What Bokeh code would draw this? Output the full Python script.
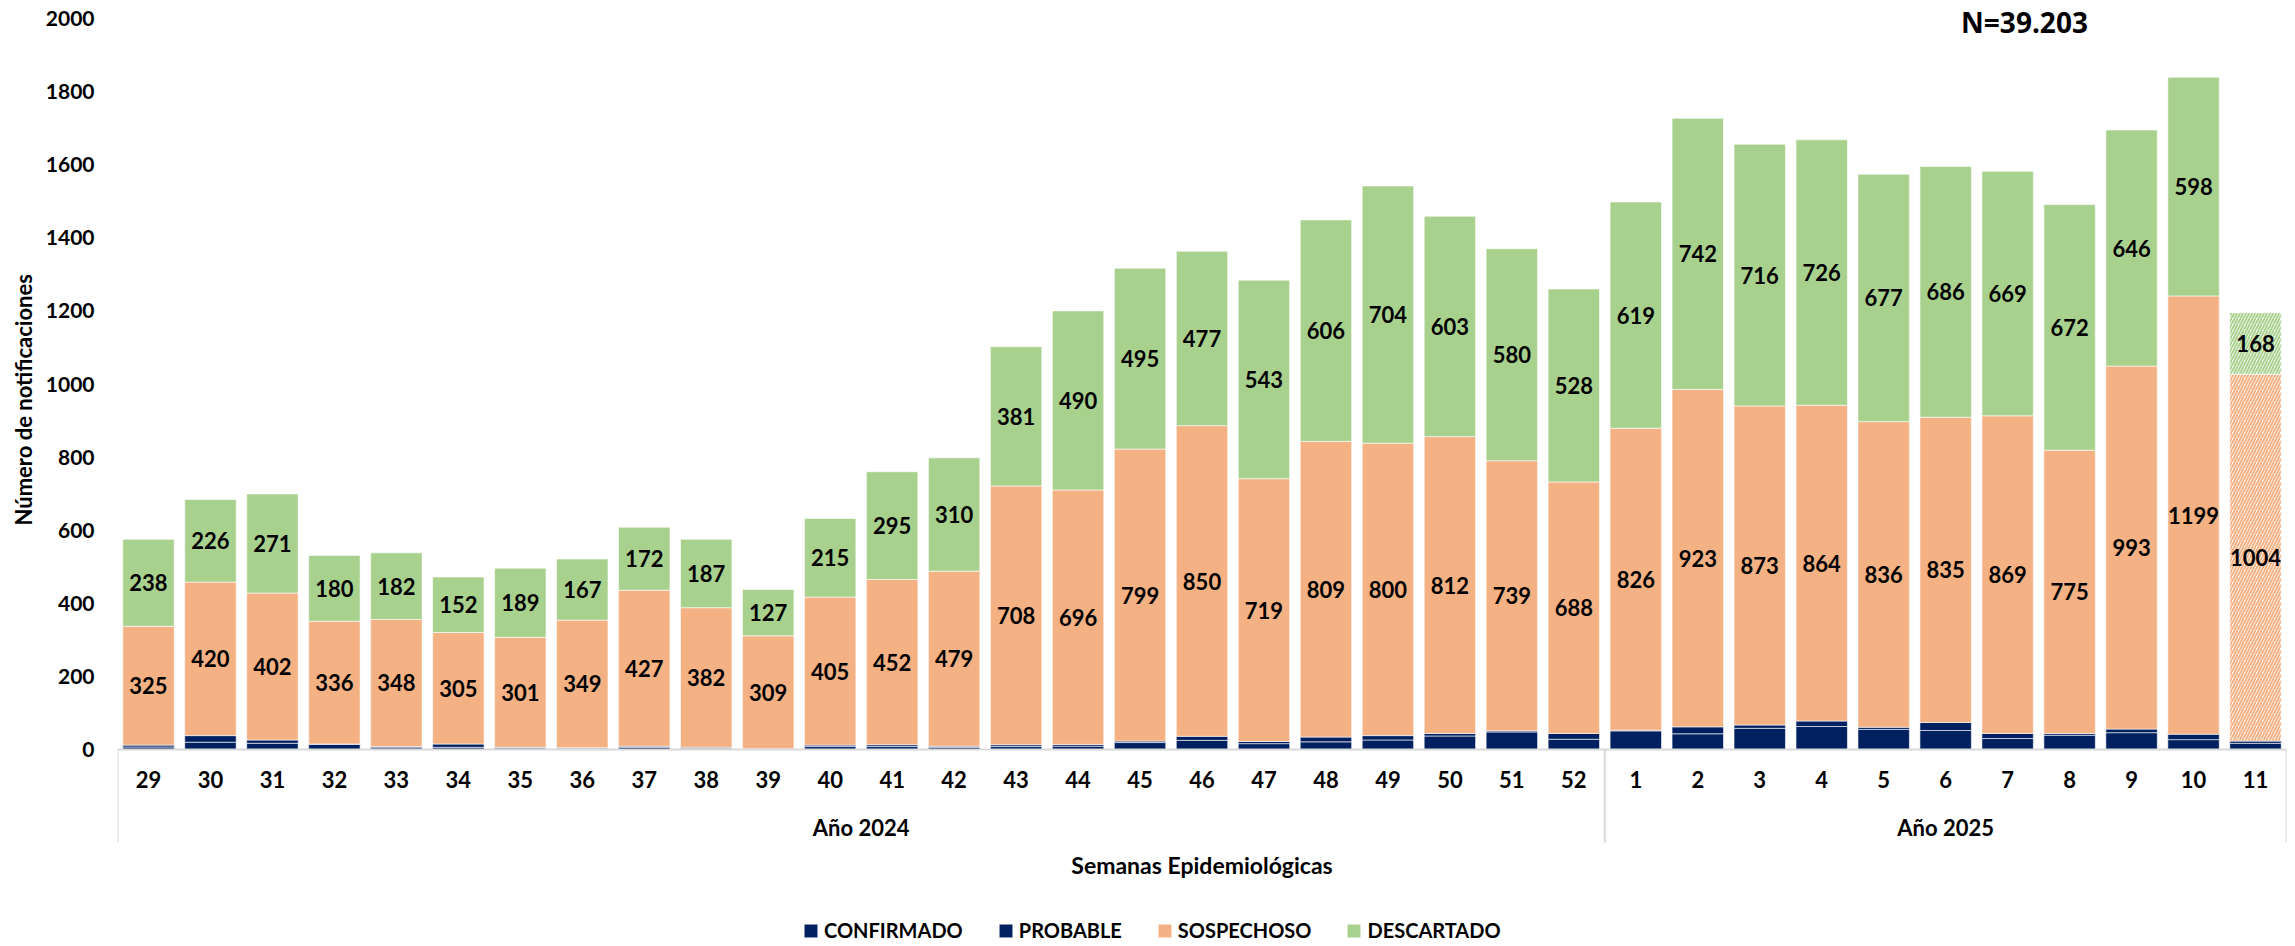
from bokeh.plotting import figure
from bokeh.models import (FactorRange, Range1d, ColumnDataSource, FixedTicker, Label,
                          Legend, LegendItem, Whisker, Span, Title)
from bokeh.core.properties import value
from bokeh.embed import file_html
from bokeh.resources import INLINE

# ---------------- data ----------------
weeks_2024 = ["29", "30", "31", "32", "33", "34", "35", "36", "37", "38", "39", "40",
              "41", "42", "43", "44", "45", "46", "47", "48", "49", "50", "51", "52"]
weeks_2025 = ["1", "2", "3", "4", "5", "6", "7", "8", "9", "10", "11"]
year_labels = ["Año 2024", "Año 2025"]

confirmado = [7, 20, 17, 14, 5, 6, 4, 3, 6, 3, 1, 8, 8, 6, 8, 9, 19, 25, 16, 21, 26, 37, 48, 28,
              51, 43, 58, 63, 55, 52, 30, 39, 46, 27, 17]
probable = [5, 18, 9, 1, 3, 9, 2, 2, 3, 3, 1, 4, 5, 3, 5, 5, 4, 11, 6, 13, 12, 7, 3, 16,
            2, 19, 9, 15, 6, 22, 14, 5, 10, 15, 6]
sospechoso = [325, 420, 402, 336, 348, 305, 301, 349, 427, 382, 309, 405, 452, 479, 708, 696,
              799, 850, 719, 809, 800, 812, 739, 688,
              826, 923, 873, 864, 836, 835, 869, 775, 993, 1199, 1004]
descartado = [238, 226, 271, 180, 182, 152, 189, 167, 172, 187, 127, 215, 295, 310, 381, 490,
              495, 477, 543, 606, 704, 603, 580, 528,
              619, 742, 716, 726, 677, 686, 669, 672, 646, 598, 168]

series_names = ["CONFIRMADO", "PROBABLE", "SOSPECHOSO", "DESCARTADO"]
y_ticks = [0, 200, 400, 600, 800, 1000, 1200, 1400, 1600, 1800, 2000]
total_label = "N=39.203"
x_title = "Semanas Epidemiológicas"
y_title = "Número de notificaciones"

# ---------------- styles / layout (page pixels) ----------------
NAVY = "#002060"
ORANGE = "#F4B183"
GREEN = "#A9D18E"
GREY = "#d9d9d9"
FONT = "Lato"

W, H = 2290, 942
FRAME_LEFT = 117
FRAME_RIGHT = 2286
Y_MAX = 2000
PAGE_YMAX = 18      # where 2000 sits
PAGE_Y0 = 749       # where 0 sits
ppu = (PAGE_Y0 - PAGE_YMAX) / Y_MAX
y_end = Y_MAX + PAGE_YMAX / ppu
y_start = -(H - PAGE_Y0) / ppu

def y_at(page_y):
    return (PAGE_Y0 - page_y) / ppu

weeks = weeks_2024 + weeks_2025
n = len(weeks)
cat_w = (FRAME_RIGHT - FRAME_LEFT) / n

def cols(sl):
    return dict(week=weeks[sl], conf=confirmado[sl], prob=probable[sl],
                sosp=sospechoso[sl], desc=descartado[sl])

src_full = ColumnDataSource(cols(slice(0, n - 1)))   # complete weeks
src_part = ColumnDataSource(cols(slice(n - 1, n)))   # last (partial) week

base = [c + p for c, p in zip(confirmado, probable)]
lab_src = ColumnDataSource(dict(
    week=weeks,
    sosp_mid=[b + s / 2 for b, s in zip(base, sospechoso)],
    desc_mid=[b + s + d / 2 for b, s, d in zip(base, sospechoso, descartado)],
    sosp_txt=[str(v) for v in sospechoso],
    desc_txt=[str(v) for v in descartado],
))

p = figure(width=W, height=H,
           x_range=FactorRange(factors=weeks, range_padding=0),
           y_range=Range1d(y_start, y_end),
           x_axis_location=None,
           output_backend="svg", toolbar_location=None,
           min_border_left=FRAME_LEFT, min_border_right=W - FRAME_RIGHT,
           min_border_top=0, min_border_bottom=0)
p.outline_line_color = None
p.xgrid.grid_line_color = None
p.ygrid.grid_line_color = None
p.background_fill_color = "white"
p.border_fill_color = "white"

stackers = ["conf", "prob", "sosp", "desc"]
colors = [NAVY, NAVY, ORANGE, GREEN]
BAR_W = 0.83

rs = p.vbar_stack(stackers, x="week", width=BAR_W, source=src_full,
                  fill_color=colors, line_color="white", line_width=0.6)

rp = p.vbar_stack(stackers, x="week", width=BAR_W, source=src_part,
                  fill_color=[NAVY, NAVY, "white", "white"],
                  line_color=["white", "white", "white", "white"], line_width=0.6)
for r, c in ((rp[2], ORANGE), (rp[3], GREEN)):
    r.glyph.hatch_pattern = "/"
    r.glyph.hatch_color = c
    r.glyph.hatch_scale = 6
    r.glyph.hatch_weight = 2

txt_kw = dict(text_align="center", text_baseline="middle", text_font=value(FONT),
              text_font_style="bold", text_color="black")
p.text(x="week", y="sosp_mid", text="sosp_txt", source=lab_src, text_font_size="22px", **txt_kw)
p.text(x="week", y="desc_mid", text="desc_txt", source=lab_src, text_font_size="22px", **txt_kw)

# baseline (category axis line)
p.add_layout(Span(location=0, dimension="width", line_color=GREY, line_width=2))

# week labels under the baseline
wk_src = ColumnDataSource(dict(week=weeks, y=[y_at(779)] * n))
p.text(x="week", y="y", text="week", source=wk_src, text_font_size="22px", **txt_kw)

# ---------------- y axis ----------------
ya = p.yaxis[0]
ya.ticker = FixedTicker(ticks=y_ticks)
ya.axis_line_color = None
ya.major_tick_line_color = None
ya.minor_tick_line_color = None
ya.major_label_standoff = 17
ya.major_label_text_font = FONT
ya.major_label_text_font_style = "bold"
ya.major_label_text_font_size = "21px"
ya.major_label_text_color = "black"

# y title: starts (bottom end) at page y = 525
p.add_layout(Title(text=y_title, align="left", offset=H - 525,
                   text_font=FONT, text_font_style="bold", text_font_size="22px",
                   text_color="black", standoff=12), "left")

# group separators below the axis
group_edges = [0, len(weeks_2024), n]
sep_src = ColumnDataSource(dict(base=group_edges,
                                lower=[y_at(842)] * len(group_edges),
                                upper=[0] * len(group_edges)))
p.add_layout(Whisker(source=sep_src, base="base", lower="lower", upper="upper",
                     dimension="height", lower_head=None, upper_head=None,
                     line_color=GREY, line_width=2))

# year group labels
for i, lab in enumerate(year_labels):
    center = (group_edges[i] + group_edges[i + 1]) / 2
    p.add_layout(Label(x=center, y=y_at(827), text=lab, text_align="center",
                       text_baseline="middle", text_font=FONT, text_font_style="bold",
                       text_font_size="22px", text_color="black"))

# x title
p.add_layout(Label(x=n / 2, y=y_at(864), text=x_title, text_align="center",
                   text_baseline="middle", text_font=FONT, text_font_style="bold",
                   text_font_size="23px", text_color="black"))

# N total
p.add_layout(Label(x=(2024 - FRAME_LEFT) / cat_w, y=y_at(21), text=total_label,
                   text_align="center", text_baseline="middle", text_font="Open Sans",
                   text_font_style="bold", text_font_size="28px", text_color="black"))

# legend
items = [LegendItem(label=nm, renderers=[r]) for nm, r in zip(series_names, rs)]
legend = Legend(items=items, orientation="horizontal", location=(802 - FRAME_LEFT, 0),
                glyph_width=17, glyph_height=17, label_height=20, label_standoff=5,
                spacing=34, padding=0, margin=0, border_line_color=None,
                background_fill_alpha=0, label_text_font=FONT,
                label_text_font_style="bold", label_text_font_size="20px",
                label_text_color="black")
p.add_layout(legend)

open("out.html", "w").write(file_html(p, INLINE))
